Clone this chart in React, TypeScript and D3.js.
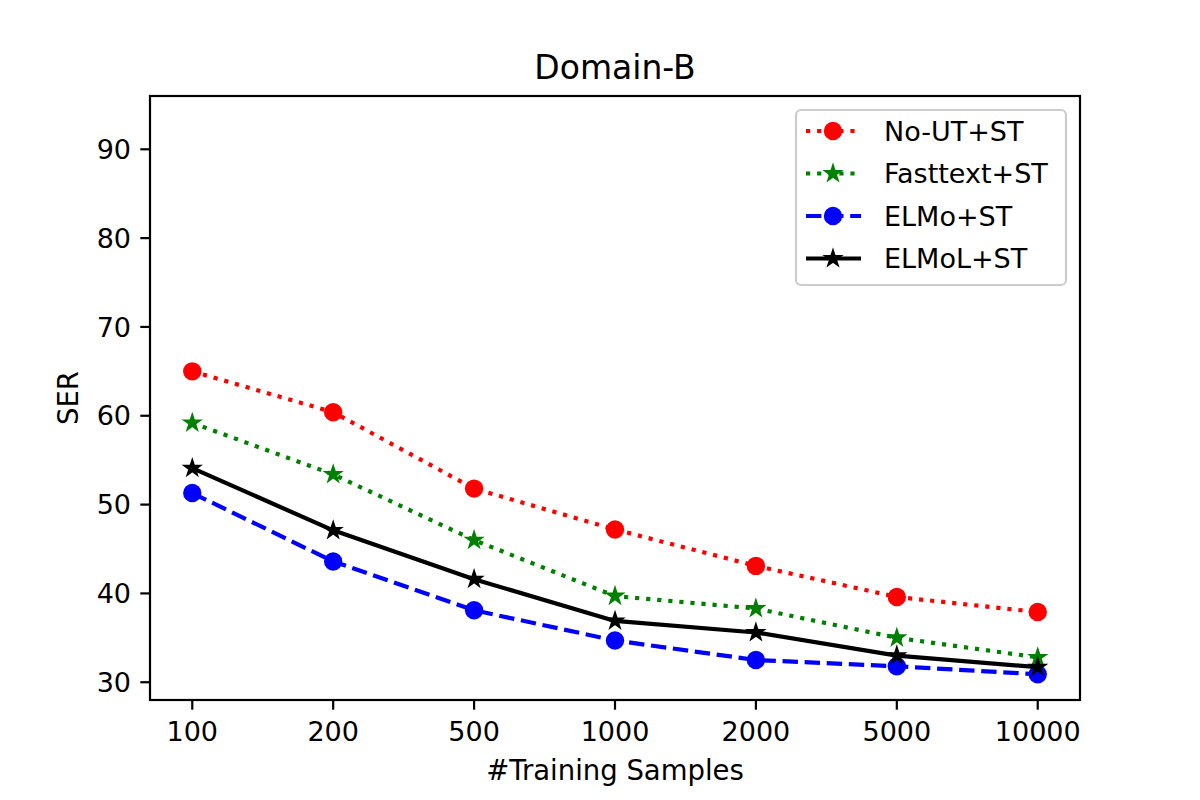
import * as d3 from "d3";

const categories = ["100", "200", "500", "1000", "2000", "5000", "10000"];
const yTicks = [30, 40, 50, 60, 70, 80, 90];

const noUT = [65.0, 60.4, 51.8, 47.2, 43.1, 39.6, 37.9];
const fasttext = [59.2, 53.4, 46.0, 39.7, 38.3, 35.0, 32.8];
const elmo = [51.3, 43.6, 38.1, 34.7, 32.5, 31.8, 30.9];
const elmoL = [54.1, 47.1, 41.6, 36.9, 35.6, 33.0, 31.7];

type Series = {
  name: string;
  values: number[];
  color: string;
  dash: string;
  marker: "circle" | "star";
};

const series: Series[] = [
  { name: "No-UT+ST", values: noUT, color: "#ff0000", dash: "4.2 6.9", marker: "circle" },
  { name: "Fasttext+ST", values: fasttext, color: "#008000", dash: "4.2 6.9", marker: "star" },
  { name: "ELMo+ST", values: elmo, color: "#0000ff", dash: "15.4 6.7", marker: "circle" },
  { name: "ELMoL+ST", values: elmoL, color: "#000000", dash: "", marker: "star" },
];

const W = 1200;
const H = 800;
const m = { left: 150, right: 1080, top: 96, bottom: 700 };
const font = "DejaVu Sans, sans-serif";

function starPath(r: number) {
  const inner = r * 0.381966;
  const pts: string[] = [];
  for (let i = 0; i < 10; i++) {
    const rad = i % 2 === 0 ? r : inner;
    const a = (Math.PI / 5) * i - Math.PI / 2;
    pts.push(`${(rad * Math.cos(a)).toFixed(2)},${(rad * Math.sin(a)).toFixed(2)}`);
  }
  return "M" + pts.join("L") + "Z";
}

function Marker({ s, x, y }: { s: Series; x: number; y: number }) {
  if (s.marker === "circle") {
    return <circle cx={x} cy={y} r={9.2} fill={s.color} />;
  }
  return (
    <path
      d={starPath(8.3)}
      transform={`translate(${x},${y})`}
      fill={s.color}
      stroke={s.color}
      strokeWidth={1.8}
      strokeLinejoin="miter"
    />
  );
}

export default function App() {
  const x = d3.scaleLinear().domain([-0.3, categories.length - 1 + 0.3]).range([m.left, m.right]);
  const y = d3.scaleLinear().domain([28, 96]).range([m.bottom, m.top]);

  const line = d3
    .line<number>()
    .x((_, i) => x(i))
    .y((d) => y(d));

  const legendX = 796;
  const legendY = 110;
  const rowH = 42.5;

  return (
    <svg width={W} height={H} style={{ display: "block", position: "absolute", left: 0, top: 0 }}>
      <rect width={W} height={H} fill="#fff" />

      {/* series */}
      {series.map((s) => (
        <g key={s.name}>
          <path
            d={line(s.values) ?? ""}
            fill="none"
            stroke={s.color}
            strokeWidth={4.2}
            strokeDasharray={s.dash || undefined}
            strokeLinecap="butt"
            strokeLinejoin="round"
          />
          {s.values.map((v, i) => (
            <Marker key={i} s={s} x={x(i)} y={y(v)} />
          ))}
        </g>
      ))}

      {/* axes frame */}
      <rect
        x={m.left}
        y={m.top}
        width={m.right - m.left}
        height={m.bottom - m.top}
        fill="none"
        stroke="#000"
        strokeWidth={2.2}
      />

      {/* x ticks */}
      {categories.map((c, i) => (
        <g key={c} transform={`translate(${x(i)},${m.bottom})`}>
          <line y1={0} y2={9.7} stroke="#000" strokeWidth={2.2} />
          <text y={41} textAnchor="middle" fontFamily={font} fontSize={27} fill="#000">
            {c}
          </text>
        </g>
      ))}

      {/* y ticks */}
      {yTicks.map((t) => (
        <g key={t} transform={`translate(${m.left},${y(t)})`}>
          <line x1={0} x2={-9.7} stroke="#000" strokeWidth={2.2} />
          <text x={-19} dy="0.36em" textAnchor="end" fontFamily={font} fontSize={27} fill="#000">
            {t}
          </text>
        </g>
      ))}

      {/* labels */}
      <text x={(m.left + m.right) / 2} y={780} textAnchor="middle" fontFamily={font} fontSize={27.5}>
        #Training Samples
      </text>
      <text
        transform={`translate(78,${(m.top + m.bottom) / 2}) rotate(-90)`}
        textAnchor="middle"
        fontFamily={font}
        fontSize={27.5}
      >
        SER
      </text>
      <text x={(m.left + m.right) / 2} y={79} textAnchor="middle" fontFamily={font} fontSize={33}>
        Domain-B
      </text>

      {/* legend */}
      <rect
        x={legendX}
        y={legendY}
        width={270}
        height={175}
        rx={5}
        fill="#fff"
        fillOpacity={0.8}
        stroke="#cccccc"
        strokeWidth={2.2}
      />
      {series.map((s, i) => {
        const cy = legendY + 21 + i * rowH;
        return (
          <g key={s.name}>
            <line
              x1={806}
              x2={861}
              y1={cy}
              y2={cy}
              stroke={s.color}
              strokeWidth={4.2}
              strokeDasharray={s.dash || undefined}
            />
            <Marker s={s} x={833} y={cy} />
            <text x={884} y={cy} dy="0.36em" fontFamily={font} fontSize={27} fill="#000">
              {s.name}
            </text>
          </g>
        );
      })}
    </svg>
  );
}
